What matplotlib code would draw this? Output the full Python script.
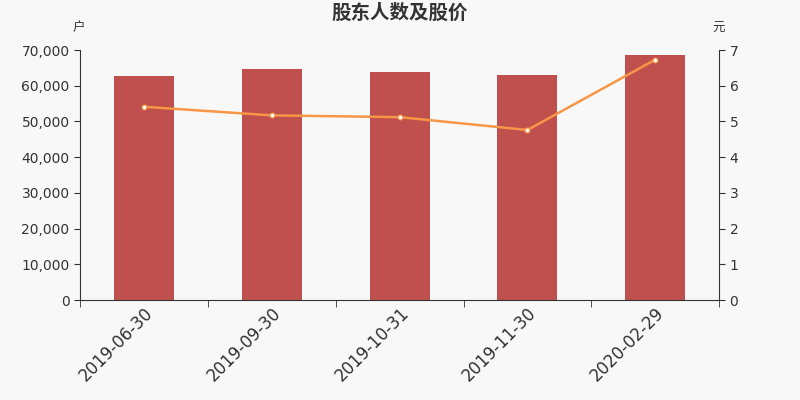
import matplotlib
matplotlib.use("Agg")
import matplotlib.pyplot as plt
from matplotlib.ticker import FuncFormatter, FixedLocator

plt.rcParams['font.family'] = ['DejaVu Sans', 'Noto Sans CJK SC']

dates = ["2019-06-30", "2019-09-30", "2019-10-31", "2019-11-30", "2020-02-29"]
holders = [62700, 64700, 63800, 63000, 68500]
price = [5.41, 5.17, 5.12, 4.76, 6.73]

bg = "#f8f8f8"
fig = plt.figure(figsize=(8, 4), dpi=100, facecolor=bg)
ax = fig.add_axes([0.1, 0.25, 0.799, 0.625])
ax.set_facecolor(bg)
x = list(range(len(dates)))
ax.bar(x, holders, width=0.47, color="#c0504d", zorder=2)
ax.set_xlim(-0.5, len(dates) - 0.5)
ax.set_ylim(0, 70000)
ax.set_yticks(range(0, 70001, 10000))
ax.yaxis.set_major_formatter(FuncFormatter(lambda v, p: f"{int(v):,}"))
ax.set_xticks(x)
ax.set_xticklabels(dates, rotation=45, ha="right", rotation_mode="anchor", fontsize=12, color="#333333")
ax.tick_params(axis="x", length=0, pad=3)
ax.xaxis.set_minor_locator(FixedLocator([i - 0.5 for i in range(len(dates) + 1)]))
ax.tick_params(axis="x", which="minor", length=5, color="#333333")
ax.tick_params(axis="y", labelsize=10, colors="#333333", length=4)
for s in ["top", "right"]:
    ax.spines[s].set_visible(False)
for s in ["left", "bottom"]:
    ax.spines[s].set_color("#333333")

ax2 = ax.twinx()
ax2.plot(x, price, color="#f79646", lw=1.8, marker="o", ms=3.5,
         markerfacecolor="white", markeredgecolor="#f79646", markeredgewidth=0.8, zorder=3)
ax2.set_ylim(0, 7)
ax2.set_yticks(range(0, 8))
ax2.tick_params(axis="y", labelsize=10, colors="#333333", length=4)
for s in ["top", "left", "bottom"]:
    ax2.spines[s].set_visible(False)
ax2.spines["right"].set_color("#333333")

fig.text(0.5, 0.967, "股东人数及股价", ha="center", va="center", fontsize=14, fontweight="bold", color="#333333")
fig.text(0.098, 0.93, "户", ha="center", va="center", fontsize=9, color="#333333")
fig.text(0.898, 0.93, "元", ha="center", va="center", fontsize=9, color="#333333")

fig.savefig("out.png", dpi=100, facecolor=bg)
